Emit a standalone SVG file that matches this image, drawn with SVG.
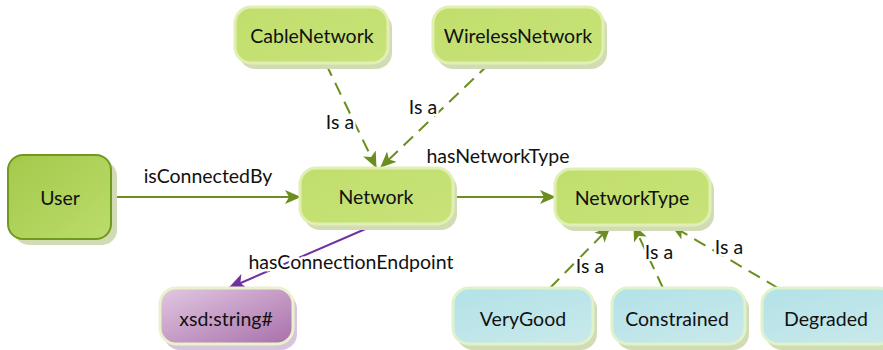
<svg xmlns="http://www.w3.org/2000/svg" width="883" height="350" viewBox="0 0 883 350">
  <defs>
    <linearGradient id="gUser" x1="0" y1="0" x2="1" y2="1">
      <stop offset="0" stop-color="#a3c94a"/>
      <stop offset="1" stop-color="#bcdc6c"/>
    </linearGradient>
    <linearGradient id="gGreen" x1="0" y1="0" x2="1" y2="1">
      <stop offset="0" stop-color="#c0de6c"/>
      <stop offset="1" stop-color="#c8e37a"/>
    </linearGradient>
    <linearGradient id="gBlue" x1="0" y1="0" x2="0.6" y2="1">
      <stop offset="0" stop-color="#b2e2e8"/>
      <stop offset="1" stop-color="#c6e8ea"/>
    </linearGradient>
    <linearGradient id="gPurple" x1="0" y1="0" x2="1" y2="1">
      <stop offset="0" stop-color="#e2c8e2"/>
      <stop offset="1" stop-color="#a870aa"/>
    </linearGradient>
    <marker id="arrG" viewBox="0 0 16 16" refX="15" refY="8" markerWidth="16" markerHeight="16" markerUnits="userSpaceOnUse" orient="auto">
      <path d="M0,1 L16,8 L0,15 L4,8 Z" fill="#6b8e1e"/>
    </marker>
    <marker id="arrP" viewBox="0 0 16 16" refX="15" refY="8" markerWidth="18" markerHeight="18" markerUnits="userSpaceOnUse" orient="auto">
      <path d="M0,1 L16,8 L0,15 L4,8 Z" fill="#7030a0"/>
    </marker>
  </defs>
  <style>
    text { font-family: Lato, "Open Sans", "Liberation Sans", sans-serif; fill: #111; }
    .node text { font-size: 19.5px; text-anchor: middle; dominant-baseline: central; }
    .shadow { fill: #d2dcb4; }
    .user { fill: url(#gUser); stroke: #6f9a1e; stroke-width: 2; }
    .green { fill: url(#gGreen); stroke: #e2efb4; stroke-width: 3; }
    .blue { fill: url(#gBlue); stroke: #e0f2cc; stroke-width: 3; }
    .purple { fill: url(#gPurple); stroke: #eaf2cc; stroke-width: 3; }
    .purple-shadow { fill: #d8c4dc; }
    .edge { fill: none; stroke: #6b8e1e; stroke-width: 2; }
    .dash { stroke-dasharray: 13 8; }
    .edge-p { fill: none; stroke: #7030a0; stroke-width: 2; }
    .lbl { font-size: 19.5px; text-anchor: middle; stroke: #fff; stroke-width: 5; paint-order: stroke; stroke-linejoin: round; }
  </style>

  <!-- connectors -->
  <g id="connectors">
    <line class="edge" x1="111" y1="197" x2="300" y2="197" marker-end="url(#arrG)"/>
    <line class="edge" x1="453" y1="197" x2="555" y2="197" marker-end="url(#arrG)"/>
    <line class="edge dash" x1="326" y1="64" x2="376" y2="167" marker-end="url(#arrG)"/>
    <line class="edge dash" x1="489" y1="64" x2="381" y2="167" marker-end="url(#arrG)"/>
    <line class="edge dash" x1="550" y1="288" x2="610" y2="227" marker-end="url(#arrG)"/>
    <line class="edge dash" x1="663" y1="288" x2="634" y2="226" marker-end="url(#arrG)"/>
    <line class="edge dash" x1="778" y1="288" x2="672" y2="226" marker-end="url(#arrG)"/>
    <line class="edge-p" x1="377" y1="224" x2="229" y2="288" marker-end="url(#arrP)"/>

    <text class="lbl" x="208" y="183">isConnectedBy</text>
    <text class="lbl" x="498" y="163">hasNetworkType</text>
    <text class="lbl" x="340" y="129">Is a</text>
    <text class="lbl" x="423" y="114">Is a</text>
    <text class="lbl" x="351" y="269">hasConnectionEndpoint</text>
    <text class="lbl" x="590" y="273">Is a</text>
    <text class="lbl" x="659" y="259">Is a</text>
    <text class="lbl" x="729" y="254">Is a</text>
  </g>

  <!-- nodes -->
  <g id="User" class="node">
    <rect class="shadow" x="14" y="161" width="103" height="84" rx="15"/>
    <rect class="user" x="8" y="155" width="103" height="84" rx="15"/>
    <text x="60" y="197">User</text>
  </g>
  <g id="CableNetwork" class="node">
    <rect class="shadow" x="239" y="12" width="153" height="57" rx="16"/>
    <rect class="green" x="235" y="7" width="153" height="56" rx="16"/>
    <text x="312" y="35">CableNetwork</text>
  </g>
  <g id="WirelessNetwork" class="node">
    <rect class="shadow" x="437" y="12" width="170" height="57" rx="16"/>
    <rect class="green" x="433" y="7" width="170" height="56" rx="16"/>
    <text x="518" y="35">WirelessNetwork</text>
  </g>
  <g id="Network" class="node">
    <rect class="shadow" x="304" y="173" width="153" height="57" rx="16"/>
    <rect class="green" x="300" y="168" width="153" height="56" rx="16"/>
    <text x="376" y="196">Network</text>
  </g>
  <g id="NetworkType" class="node">
    <rect class="shadow" x="559" y="174" width="155" height="57" rx="16"/>
    <rect class="green" x="555" y="169" width="155" height="56" rx="16"/>
    <text x="632" y="197">NetworkType</text>
  </g>
  <g id="xsd-string" class="node">
    <rect class="purple-shadow" x="164" y="293" width="133" height="57" rx="16"/>
    <rect class="purple" x="160" y="288" width="133" height="56" rx="16"/>
    <text x="226" y="318">xsd:string#</text>
  </g>
  <g id="VeryGood" class="node">
    <rect class="shadow" x="457" y="293" width="140" height="57" rx="16"/>
    <rect class="blue" x="453" y="288" width="140" height="56" rx="16"/>
    <text x="523" y="318">VeryGood</text>
  </g>
  <g id="Constrained" class="node">
    <rect class="shadow" x="616" y="293" width="133" height="57" rx="16"/>
    <rect class="blue" x="612" y="288" width="133" height="56" rx="16"/>
    <text x="677" y="318">Constrained</text>
  </g>
  <g id="Degraded" class="node">
    <rect class="shadow" x="766" y="293" width="133" height="57" rx="16"/>
    <rect class="blue" x="762" y="288" width="133" height="56" rx="16"/>
    <text x="826" y="318">Degraded</text>
  </g>
</svg>
